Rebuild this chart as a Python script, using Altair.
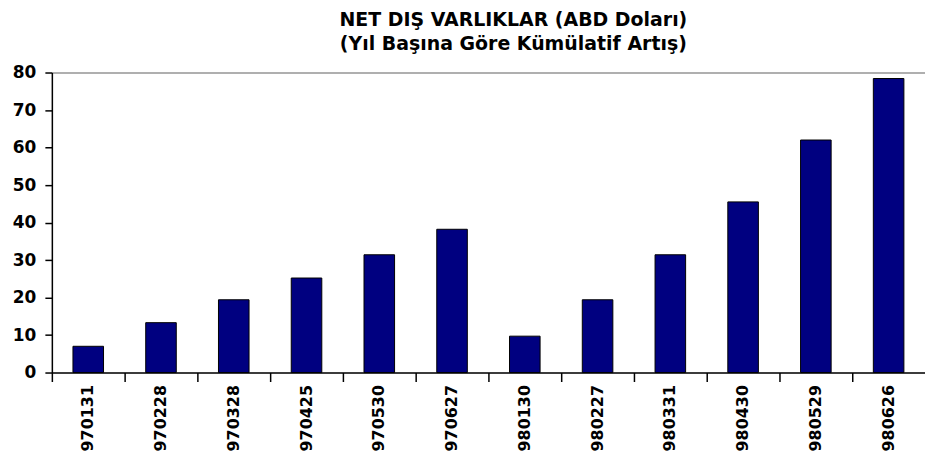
import altair as alt
import pandas as pd

dates = ["970131", "970228", "970328", "970425", "970530", "970627",
         "980130", "980227", "980331", "980430", "980529", "980626"]
values = [7.0, 13.3, 19.4, 25.2, 31.4, 38.2, 9.7, 19.4, 31.4, 45.5, 62.0, 78.4]
title_lines = ["NET DIŞ VARLIKLAR (ABD Doları)", "(Yıl Başına Göre Kümülatif Artış)"]
y_ticks = [0, 10, 20, 30, 40, 50, 60, 70, 80]

df = pd.DataFrame({"tarih": dates, "deger": values})
FONT = "DejaVu Sans"
PLOT_W = 876

xscale = alt.Scale(domain=dates, paddingInner=0, paddingOuter=0)
yscale = alt.Scale(domain=[0, 80], nice=False)

x_axis = alt.Axis(orient="bottom", labelAngle=-90, ticks=True, tickSize=9,
                  tickColor="#000000", tickWidth=1.5, bandPosition=0,
                  domain=True, domainColor="#000000", domainWidth=1.5, grid=False,
                  labelFont=FONT, labelFontSize=16, labelFontWeight="bold",
                  labelColor="#000000", labelPadding=3, labelAlign="right",
                  labelBaseline="middle")
y_axis = alt.Axis(orient="left", values=y_ticks, ticks=True, tickSize=7,
                  tickColor="#000000", tickWidth=1.5, domain=True,
                  domainColor="#000000", domainWidth=1.5,
                  grid=True, gridWidth=1.5,
                  gridColor=alt.condition("datum.value == 80",
                                          alt.value("#9a9a9a"),
                                          alt.value("transparent")),
                  labelFont=FONT, labelFontSize=17, labelFontWeight="bold",
                  labelColor="#000000", labelPadding=9)

chart = alt.Chart(df).mark_bar(
    color="#000080", stroke="#000000", strokeWidth=1,
    width=alt.RelativeBandSize(0.42)
).encode(
    x=alt.X("tarih:N", scale=xscale, title=None, axis=x_axis),
    y=alt.Y("deger:Q", scale=yscale, title=None, axis=y_axis),
).properties(
    width=PLOT_W, height=301,
    autosize=alt.AutoSizeParams(type="none"),
    padding={"left": 44, "top": 64, "right": 0, "bottom": 80},
    title=alt.TitleParams(title_lines, font=FONT, fontSize=19, fontWeight="bold",
                          color="#000000", anchor="middle", dx=25, lineHeight=24,
                          offset=10),
).configure_view(strokeWidth=0).configure(background="#ffffff")

chart.save("out.html", embed_options={"renderer": "svg", "actions": False})
